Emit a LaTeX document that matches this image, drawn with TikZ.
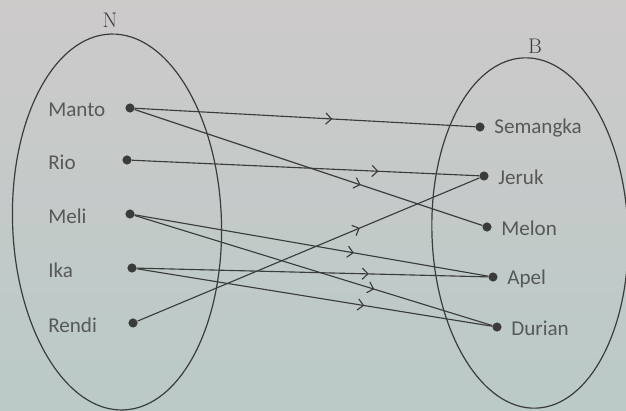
\documentclass[tikz,border=0pt]{standalone}
\usepackage{fontspec}
\setmainfont{Carlito}
\newfontfamily\setfont{Latin Modern Roman}
\usetikzlibrary{arrows.meta,decorations.markings}
\definecolor{ink}{HTML}{3A3C3C}
\definecolor{bgtop}{HTML}{CDCACA}
\definecolor{bgbot}{HTML}{BACAC7}
\begin{document}
\begin{tikzpicture}[x=0.025cm, y=-0.025cm,
    dot/.style={circle, fill=ink, inner sep=0pt, minimum size=6.5pt},
    lbl/.style={font=\fontsize{15}{17}\selectfont, text=ink!85, inner sep=0pt},
    setlbl/.style={font=\setfont\fontsize{15}{17}\selectfont, text=ink},
    conn/.style={draw=ink, line width=0.8pt, postaction={decorate},
      decoration={markings, mark=at position #1 with {\arrow[ink, line width=0.8pt]{Straight Barb[length=4pt, width=8pt]}}}},
    conn/.default=0.64,
  ]
    \useasboundingbox (0,0) rectangle (626,410);
    \fill[top color=bgtop, bottom color=bgbot] (0,0) rectangle (626,410);

    % sets
    \draw[ink, line width=0.85pt, rotate around={2:(117,222)}] (117,222) ellipse [x radius=2.61cm, y radius=4.7cm];
    \draw[ink, line width=0.85pt, rotate around={2:(530,233)}] (530,233) ellipse [x radius=2.45cm, y radius=4.38cm];
    \node[setlbl] (N) at (110,20) {N};
    \node[setlbl] (B) at (535,46) {B};

    % domain
    \foreach \n/\x/\y/\t in {manto/130/108/Manto, rio/127/160/Rio, meli/130/214/Meli, ika/132/268/Ika, rendi/133/323/Rendi} {
      \node[dot] (\n) at (\x,\y) {};
      \node[lbl, anchor=west] (\n-t) at (48,\y+2) {\t};
    }

    % codomain
    \foreach \n/\x/\y/\t in {semangka/480/127/Semangka, jeruk/484/176/Jeruk, melon/487/227/Melon, apel/493/277/Apel, durian/497/327/Durian} {
      \node[dot] (\n) at (\x,\y) {};
      \node[lbl, anchor=west] (\n-t) at ([xshift=10pt, yshift=-1pt]\n.center) {\t};
    }

    % relation
    \foreach \a/\b/\p in {manto/semangka/0.58, manto/melon/0.65, rio/jeruk/0.71, meli/apel/0.62,
        meli/durian/0.67, ika/apel/0.66, ika/durian/0.64, rendi/jeruk/0.65}
      \path[conn=\p] (\a) -- (\b);
  \end{tikzpicture}
\end{document}
